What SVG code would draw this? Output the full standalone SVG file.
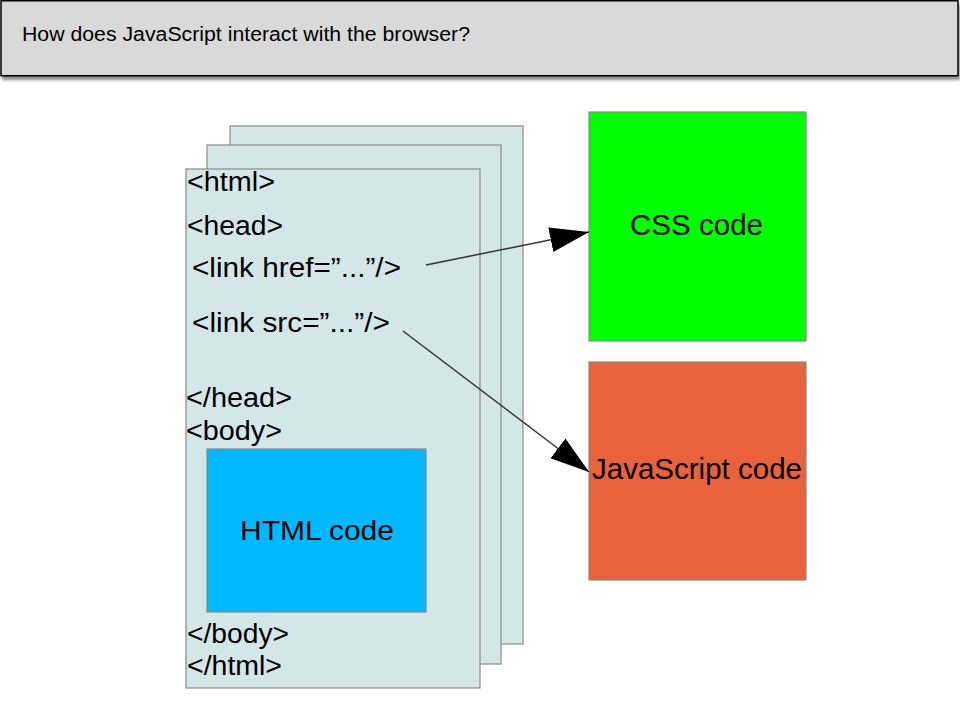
<svg xmlns="http://www.w3.org/2000/svg" width="960" height="720" viewBox="0 0 960 720">
  <style>
    .page { fill: #d2e7e6; stroke: #8a8a8a; stroke-width: 1.2; }
    .tag { font-family: "Liberation Sans", Arial, sans-serif; font-size: 27px; fill: #000; }
    .label { font-family: "Liberation Sans", Arial, sans-serif; fill: #000; }
    .box { stroke: #888; stroke-width: 1.2; }
    .conn { stroke: #333; stroke-width: 1.5; fill: none; marker-end: url(#arrow); }
  </style>
  <defs>
    <marker id="arrow" viewBox="0 0 39 25" markerWidth="39" markerHeight="25" markerUnits="userSpaceOnUse" refX="39" refY="12.5" orient="auto">
      <path d="M0,0 L39,12.5 L0,25 z" fill="#000"/>
    </marker>
    <filter id="shadow" x="-5%" y="-20%" width="110%" height="160%">
      <feGaussianBlur stdDeviation="1.5"/>
    </filter>
  </defs>
  <rect width="960" height="720" fill="#fff"/>

  <g id="header">
    <rect x="2" y="4" width="958" height="76" fill="#8c8c8c" filter="url(#shadow)"/>
    <rect x="1" y="0.75" width="957" height="75" fill="#d9d9d9" stroke="#000" stroke-width="1.5"/>
    <text class="label" x="22" y="41" font-size="20" textLength="448" lengthAdjust="spacingAndGlyphs">How does JavaScript interact with the browser?</text>
  </g>

  <g id="page-back">
    <rect class="page" x="230" y="126" width="293" height="518"/>
  </g>
  <g id="page-middle">
    <rect class="page" x="207" y="145" width="294" height="519"/>
  </g>
  <g id="page-front">
    <rect class="page" x="186" y="169" width="294" height="519"/>
    <text class="tag" x="187" y="191" textLength="88" lengthAdjust="spacingAndGlyphs">&lt;html&gt;</text>
    <text class="tag" x="187" y="235" textLength="96" lengthAdjust="spacingAndGlyphs">&lt;head&gt;</text>
    <text class="tag" x="192" y="277" textLength="209" lengthAdjust="spacingAndGlyphs">&lt;link href=”...”/&gt;</text>
    <text class="tag" x="192" y="332" textLength="198" lengthAdjust="spacingAndGlyphs">&lt;link src=”...”/&gt;</text>
    <text class="tag" x="186" y="407" textLength="106" lengthAdjust="spacingAndGlyphs">&lt;/head&gt;</text>
    <text class="tag" x="186" y="440" textLength="96" lengthAdjust="spacingAndGlyphs">&lt;body&gt;</text>
    <text class="tag" x="187" y="643" textLength="102" lengthAdjust="spacingAndGlyphs">&lt;/body&gt;</text>
    <text class="tag" x="187" y="675" textLength="95" lengthAdjust="spacingAndGlyphs">&lt;/html&gt;</text>
  </g>

  <g id="html-code">
    <rect class="box" x="207" y="449" width="219" height="163" fill="#00b9ff"/>
    <text class="label" x="240" y="540" font-size="28" textLength="154" lengthAdjust="spacingAndGlyphs">HTML code</text>
  </g>

  <g id="css-code">
    <rect class="box" x="589" y="112" width="217" height="229" fill="#00ff00"/>
    <text class="label" x="630" y="235" font-size="29" textLength="133" lengthAdjust="spacingAndGlyphs">CSS code</text>
  </g>

  <g id="js-code">
    <rect class="box" x="589" y="362" width="217" height="218" fill="#ea623c"/>
    <text class="label" x="592" y="479" font-size="30" textLength="210" lengthAdjust="spacingAndGlyphs">JavaScript code</text>
  </g>

  <g id="connectors">
    <line class="conn" x1="426" y1="265" x2="589" y2="232"/>
    <line class="conn" x1="403" y1="331" x2="589" y2="472"/>
  </g>
</svg>
